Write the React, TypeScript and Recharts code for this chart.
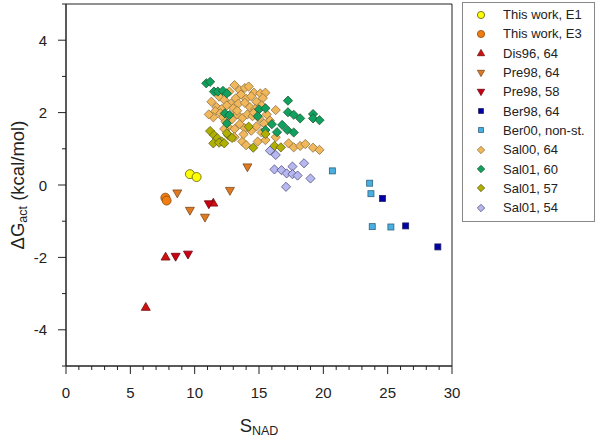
import React from 'react';
import { ScatterChart, Scatter, XAxis, YAxis, ReferenceArea, Legend } from 'recharts';

// values: [S_NAD, dG_act]
const thisWorkE1 = [[9.63, 0.3], [10.15, 0.22]];
const thisWorkE3 = [[7.72, -0.35], [7.82, -0.43]];
const dis96 = [[6.2, -3.37], [7.74, -1.98], [11.45, -0.49]];
const pre98_64 = [[8.65, -0.23], [9.63, -0.71], [10.8, -0.9], [12.74, -0.16], [14.1, 0.49]];
const pre98_58 = [[8.52, -1.98], [9.48, -1.92], [11.1, -0.53]];
const ber98 = [[24.6, -0.37], [26.4, -1.13], [28.9, -1.71]];
const ber00 = [[20.7, 0.39], [23.6, 0.05], [23.7, -0.24], [23.8, -1.15], [25.25, -1.16]];
const sal00 = [
  [12.7, 2.58], [13.1, 2.76], [13.5, 2.62], [13.9, 2.68], [14.2, 2.72], [14.6, 2.55], [15.1, 2.53], [15.5, 2.55],
  [11.9, 2.44], [12.3, 2.35], [12.8, 2.25], [13.2, 2.4], [13.6, 2.5], [14.0, 2.38], [14.4, 2.45], [14.8, 2.3], [15.3, 2.4],
  [11.7, 2.15], [12.1, 2.1], [12.5, 2.2], [13.0, 2.12], [13.4, 2.25], [13.9, 2.27], [14.3, 2.15], [14.7, 2.1], [15.2, 2.2], [16.3, 2.07],
  [11.6, 2.04], [12.0, 1.98], [11.45, 1.87], [12.2, 1.87], [12.9, 1.82], [13.3, 1.95], [13.7, 1.85], [14.1, 1.95], [14.5, 1.9], [15.0, 1.85], [15.85, 1.78], [15.4, 1.7],
  [12.6, 1.6], [13.1, 1.55], [13.5, 1.68], [13.9, 1.57], [14.4, 1.5], [14.8, 1.62], [12.4, 1.75],
  [12.7, 1.35], [13.1, 1.32], [14.9, 1.2], [15.5, 1.24], [16.3, 1.32], [13.7, 1.2], [14.0, 1.1],
  [17.3, 1.15], [17.7, 1.04], [18.2, 1.08], [18.6, 1.13], [19.2, 1.03], [19.7, 0.97],
  [11.1, 1.95], [11.3, 2.3], [13.3, 2.05], [14.6, 2.0], [15.6, 1.95], [12.3, 1.55], [13.8, 1.4], [15.2, 1.45],
];
const sal01_60 = [
  [10.9, 2.81], [11.2, 2.85], [11.5, 2.58], [11.8, 2.58], [12.2, 2.6], [12.5, 2.53], [12.35, 1.98], [12.7, 1.93], [12.5, 1.7],
  [15.0, 2.09], [15.5, 2.12], [14.9, 1.9], [15.5, 1.52], [16.0, 1.68], [16.4, 1.46], [16.8, 1.66], [17.2, 1.52], [17.7, 1.45],
  [17.25, 2.33], [17.25, 2.01], [17.7, 1.94], [18.2, 1.84], [19.2, 1.96], [19.2, 1.84], [19.7, 1.79],
];
const sal01_57 = [
  [11.2, 1.49], [11.5, 1.38], [11.76, 1.29], [12.1, 1.2], [11.45, 1.15], [11.9, 1.17], [12.3, 1.15], [12.6, 1.38],
  [12.9, 1.3], [14.55, 1.03], [14.2, 1.61], [15.5, 1.41], [16.2, 1.08], [16.7, 1.04], [12.5, 1.43],
];
const sal01_54 = [
  [15.85, 0.95], [16.3, 0.83], [16.2, 0.43], [16.75, 0.41], [17.15, 0.32], [17.6, 0.51], [17.6, 0.3], [18.0, 0.26],
  [18.5, 0.6], [19.0, 0.18], [17.1, -0.05],
];

const xTicks = Array.from({ length: 31 }, (_, i) => i);
const yTicks = Array.from({ length: 11 }, (_, i) => i - 5);
const xMajor = [0, 5, 10, 15, 20, 25, 30];
const yMajor = [-4, -2, 0, 2, 4];

type Kind = 'circle' | 'up' | 'down' | 'square' | 'diamond';

const series: { name: string; data: number[][]; fill: string; stroke: string; kind: Kind }[] = [
  { name: 'This work, E1', data: thisWorkE1, fill: '#ffff00', stroke: '#5a5a10', kind: 'circle' },
  { name: 'This work, E3', data: thisWorkE3, fill: '#f07d10', stroke: '#8a4a10', kind: 'circle' },
  { name: 'Dis96, 64', data: dis96, fill: '#d01010', stroke: '#701010', kind: 'up' },
  { name: 'Pre98, 64', data: pre98_64, fill: '#e07a20', stroke: '#7a4a20', kind: 'down' },
  { name: 'Pre98, 58', data: pre98_58, fill: '#cc0010', stroke: '#700010', kind: 'down' },
  { name: 'Ber98, 64', data: ber98, fill: '#0000a8', stroke: '#202060', kind: 'square' },
  { name: 'Ber00, non-st.', data: ber00, fill: '#48b0e0', stroke: '#306080', kind: 'square' },
  { name: 'Sal00, 64', data: sal00, fill: '#f0b85a', stroke: '#907040', kind: 'diamond' },
  { name: 'Sal01, 60', data: sal01_60, fill: '#10a060', stroke: '#205a30', kind: 'diamond' },
  { name: 'Sal01, 57', data: sal01_57, fill: '#b0b000', stroke: '#606020', kind: 'diamond' },
  { name: 'Sal01, 54', data: sal01_54, fill: '#b8b8f0', stroke: '#505080', kind: 'diamond' },
];

function Marker({ kind, cx, cy, fill, stroke, s = 1 }: { kind: Kind; cx: number; cy: number; fill: string; stroke: string; s?: number }) {
  const w = 0.8;
  if (kind === 'circle') return <circle cx={cx} cy={cy} r={4.5 * s} fill={fill} stroke={stroke} strokeWidth={w} />;
  if (kind === 'square') {
    const h = 3 * s;
    return <rect x={cx - h} y={cy - h} width={2 * h} height={2 * h} fill={fill} stroke={stroke} strokeWidth={w} />;
  }
  if (kind === 'diamond') {
    const d = 4.6 * s;
    return <polygon points={`${cx},${cy - d} ${cx + d},${cy} ${cx},${cy + d} ${cx - d},${cy}`} fill={fill} stroke={stroke} strokeWidth={w} />;
  }
  const a = 4.5 * s;
  const pts = kind === 'up'
    ? `${cx},${cy - a} ${cx + a},${cy + a * 0.75} ${cx - a},${cy + a * 0.75}`
    : `${cx},${cy + a} ${cx + a},${cy - a * 0.75} ${cx - a},${cy - a * 0.75}`;
  return <polygon points={pts} fill={fill} stroke={stroke} strokeWidth={w} />;
}

const font = '"Liberation Sans", Arial, sans-serif';

const XTick = (props: any) => {
  const { x, y, payload } = props;
  const major = xMajor.includes(payload.value);
  return (
    <g>
      <line x1={x} x2={x} y1={y} y2={y + (major ? 8 : 4)} stroke="#222" />
      {major && (
        <text x={x} y={y + 32} textAnchor="middle" fontSize={15} fill="#222" fontFamily={font}>
          {payload.value}
        </text>
      )}
    </g>
  );
};

const YTick = (props: any) => {
  const { x, y, payload } = props;
  const major = yMajor.includes(payload.value);
  return (
    <g>
      <line x1={x - (major ? 8 : 4)} x2={x} y1={y} y2={y} stroke="#222" />
      {major && (
        <text x={x - 19} y={y + 5.5} textAnchor="end" fontSize={15} fill="#222" fontFamily={font}>
          {payload.value}
        </text>
      )}
    </g>
  );
};

const LegendBox = () => (
  <div style={{ border: '1px solid #888', width: 131, height: 216, boxSizing: 'content-box', background: '#fff', paddingTop: 2 }}>
    {series.map((s) => (
      <div key={s.name} style={{ height: 19.3, display: 'flex', alignItems: 'center', fontFamily: font, fontSize: 13, color: '#222' }}>
        <svg width={40} height={12} style={{ flex: 'none' }}>
          <Marker kind={s.kind} cx={18} cy={6} fill={s.fill} stroke={s.stroke} s={0.8} />
        </svg>
        <span style={{ whiteSpace: 'nowrap' }}>{s.name}</span>
      </div>
    ))}
  </div>
);

export default function App() {
  return (
    <div style={{ position: 'absolute', left: 0, top: 0, width: 614, height: 442, background: '#fff' }}>
      <ScatterChart width={614} height={442} margin={{ top: 4, right: 162, bottom: 0, left: 0 }}>
        <XAxis
          type="number"
          dataKey="x"
          domain={[0, 30]}
          ticks={xTicks}
          interval={0}
          height={76}
          tickSize={0}
          tickMargin={0}
          tickLine={false}
          tick={<XTick />}
          stroke="#222"
          label={{
            content: () => (
              <text x={259} y={432} textAnchor="middle" fontFamily={font} fill="#222">
                <tspan fontSize={18.5}>S</tspan>
                <tspan fontSize={12.5} dy={3}>NAD</tspan>
              </text>
            ),
          }}
        />
        <YAxis
          type="number"
          dataKey="y"
          domain={[-5, 5]}
          ticks={yTicks}
          interval={0}
          width={66}
          tickSize={0}
          tickMargin={0}
          tickLine={false}
          tick={<YTick />}
          stroke="#222"
          label={{
            content: () => (
              <text transform="translate(24,185) rotate(-90)" textAnchor="middle" fontFamily={font} fill="#222">
                <tspan fontSize={18.5}>ΔG</tspan>
                <tspan fontSize={12.5} dy={3}>act</tspan>
                <tspan fontSize={18.5} dy={-3}> (kcal/mol)</tspan>
              </text>
            ),
          }}
        />
        <ReferenceArea x1={0} x2={30} y1={-5} y2={5} fill="none" fillOpacity={0} stroke="#222" strokeWidth={1} />
        {series.map((s) => (
          <Scatter
            key={s.name}
            name={s.name}
            data={s.data.map(([x, y]) => ({ x, y }))}
            isAnimationActive={false}
            shape={(p: any) => <Marker kind={s.kind} cx={p.cx} cy={p.cy} fill={s.fill} stroke={s.stroke} />}
          />
        ))}
        <Legend
          layout="vertical"
          align="center"
          verticalAlign="middle"
          wrapperStyle={{ left: 462, top: 2, width: 133 }}
          content={() => <LegendBox />}
        />
      </ScatterChart>
    </div>
  );
}
